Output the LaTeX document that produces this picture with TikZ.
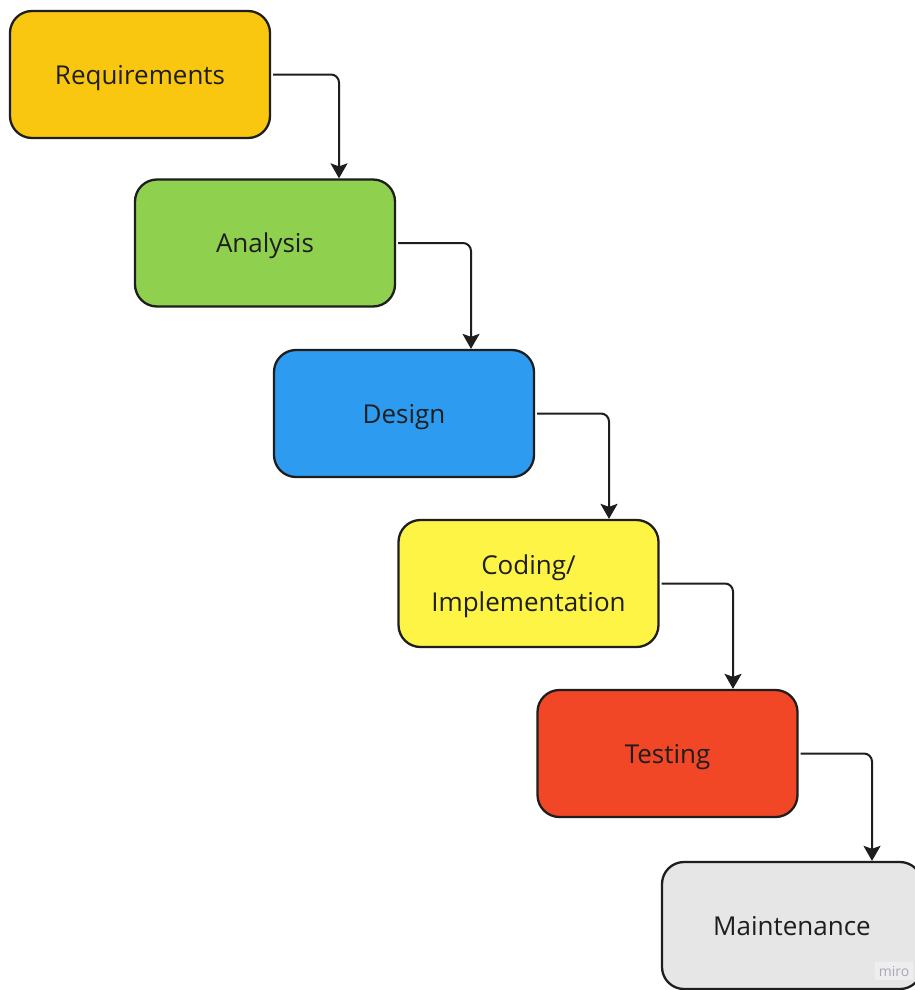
\documentclass[tikz,border=0pt]{standalone}
\usepackage{fontspec}
\setmainfont{Open Sans}
\usetikzlibrary{arrows.meta}

% phase colours
\definecolor{reqcol}{HTML}{FAC710}
\definecolor{anacol}{HTML}{8FD14F}
\definecolor{descol}{HTML}{2D9BF0}
\definecolor{codcol}{HTML}{FEF445}
\definecolor{tescol}{HTML}{F24726}
\definecolor{maicol}{HTML}{E6E6E6}
\definecolor{inkcol}{HTML}{1E1E1E}
\definecolor{markcol}{HTML}{A8A8BC}
\definecolor{markbg}{HTML}{EEEEEE}

\tikzset{
  phase/.style={draw=inkcol, line width=2.3pt, rounded corners=22pt,
    minimum width=260pt, minimum height=127pt, inner sep=0pt,
    align=center, text=inkcol, text height=19.4pt, text depth=0pt,
    font=\fontsize{26}{37}\selectfont},
  twoline/.style={text height=56pt, text depth=0pt},
  flow/.style={draw=inkcol, line width=2pt, rounded corners=8pt,
    -{Stealth[length=15pt,width=17pt,inset=3pt]}},
}

\begin{document}
\begin{tikzpicture}[x=1pt,y=-1pt]
  \useasboundingbox (0,0) rectangle (915,990);
  \clip (0,0) rectangle (915,990);
  \fill[white] (0,0) rectangle (915,990);

  % the six phases of the waterfall
  \node[phase, fill=reqcol] (req) at (140,74.5)   {Requirements};
  \node[phase, fill=anacol] (ana) at (265,243)    {Analysis};
  \node[phase, fill=descol] (des) at (404,413.5)  {Design};
  \node[phase, twoline, fill=codcol] (cod) at (528.5,583.5) {Coding/\\Implementation};
  \node[phase, fill=tescol] (tes) at (667.5,753.5) {Testing};
  \node[phase, fill=maicol] (mai) at (792,925.5)  {Maintenance};

  % step-down connectors
  \draw[flow] ([xshift=2pt]req.east) -| ([xshift=74pt]ana.north);
  \draw[flow] ([xshift=2pt]ana.east) -| ([xshift=67pt]des.north);
  \draw[flow] ([xshift=2pt]des.east) -| ([xshift=80.5pt]cod.north);
  \draw[flow] ([xshift=2pt]cod.east) -| ([xshift=65.5pt]tes.north);
  \draw[flow] ([xshift=2pt]tes.east) -| ([xshift=80pt]mai.north);

  % board watermark
  \node[fill=markbg, text=markcol, inner xsep=4pt, inner ysep=4pt,
        font=\fontsize{14}{16}\selectfont] (mark) at (894,971) {miro};
\end{tikzpicture}
\end{document}
